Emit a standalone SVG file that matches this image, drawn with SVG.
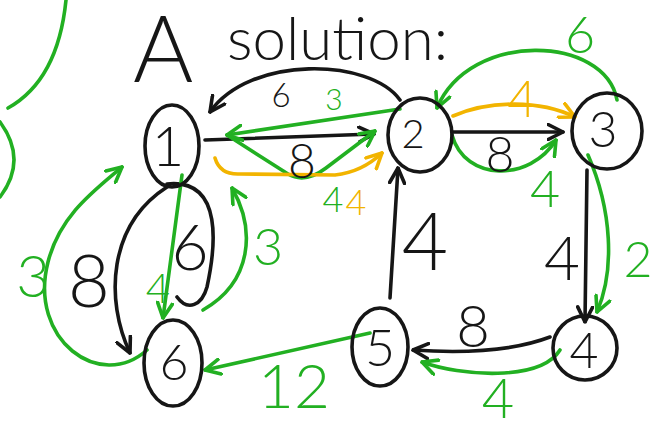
<svg xmlns="http://www.w3.org/2000/svg" width="656" height="430" viewBox="0 0 656 430">
<style>
.k{stroke:#161616}.g{stroke:#22b022}.y{stroke:#f2b400}
path,line,ellipse{fill:none;stroke-width:3.6;stroke-linecap:round;stroke-linejoin:round}
text{font-family:Lato,"Liberation Sans",Arial,sans-serif;font-weight:300;text-anchor:middle}
.tk{fill:#161616}.tg{fill:#22b022}.ty{fill:#f2b400}
</style>
<defs>
<marker id="ak" viewBox="0 0 12 12" refX="11" refY="6" markerWidth="18" markerHeight="18" markerUnits="userSpaceOnUse" orient="auto"><path d="M1,1 L11,6 L1,11" style="stroke:#161616;stroke-width:2.4"/></marker>
<marker id="ag" viewBox="0 0 12 12" refX="11" refY="6" markerWidth="18" markerHeight="18" markerUnits="userSpaceOnUse" orient="auto"><path d="M1,1 L11,6 L1,11" style="stroke:#22b022;stroke-width:2.4"/></marker>
<marker id="ay" viewBox="0 0 12 12" refX="11" refY="6" markerWidth="18" markerHeight="18" markerUnits="userSpaceOnUse" orient="auto"><path d="M1,1 L11,6 L1,11" style="stroke:#f2b400;stroke-width:2.4"/></marker>
</defs>
<rect width="656" height="430" fill="#ffffff"/>
<text class="tk" style="text-anchor:start"><tspan x="133" y="82" font-size="92">A</tspan><tspan x="227" y="60" font-size="60">solution:</tspan></text>
<path class="g" d="M8,108 Q58,80 66,0"/>
<path class="g" d="M0,122 Q28,160 0,197"/>
<g id="connectors">
<path class="k" d="M400,100 C370,58 250,55 210,112" marker-end="url(#ak)"/>
<path class="k" d="M205,140 L374,134" marker-end="url(#ak)"/>
<path class="k" d="M453,132 L563,132" marker-end="url(#ak)"/>
<path class="k" d="M390,298 L398,168" marker-end="url(#ak)"/>
<path class="k" d="M587,170 L585,322" marker-end="url(#ak)"/>
<path class="k" d="M550,337 Q500,356 413,350" marker-end="url(#ak)"/>
<path class="k" d="M167,187 C108,225 105,300 130,353" marker-end="url(#ak)"/>
<path class="k" d="M167,184 C225,178 215,250 207,287 C202,305 188,312 177,297"/>
<path class="g" d="M400,109 L227,135" marker-end="url(#ag)"/>
<path class="g" d="M227,135 L288,174 Q305,184 326,168 L375,131" marker-end="url(#ag)"/>
<path class="g" d="M617,100 C605,35 470,30 437,108" marker-end="url(#ag)"/>
<path class="g" d="M452,135 C465,182 530,182 556,140" marker-end="url(#ag)"/>
<path class="g" d="M588,155 C612,210 615,270 597,312" marker-end="url(#ag)"/>
<path class="g" d="M560,350 C540,382 460,376 422,362" marker-end="url(#ag)"/>
<path class="g" d="M370,333 L205,370" marker-end="url(#ag)"/>
<path class="g" d="M182,175 L163,318" marker-end="url(#ag)"/>
<path class="g" d="M147,350 C100,392 28,340 48,262 C60,215 95,190 122,167" marker-end="url(#ag)"/>
<path class="g" d="M203,310 C252,282 256,230 232,188" marker-end="url(#ag)"/>
<path class="y" d="M215,158 Q220,175 240,174 L335,175 Q362,172 382,153" marker-end="url(#ay)"/>
<path class="y" d="M453,116 C490,100 540,100 575,117" marker-end="url(#ay)"/>
</g>
<g id="labels">
<text class="tk" x="281" y="107" font-size="33">6</text>
<text class="tk" x="302" y="178" font-size="48">8</text>
<text class="tg" x="334" y="110" font-size="30">3</text>
<text class="tg" x="333" y="212" font-size="36">4</text>
<text class="ty" x="356" y="215" font-size="36">4</text>
<text class="ty" x="522" y="117" font-size="52">4</text>
<text class="tk" x="500" y="172" font-size="50">8</text>
<text class="tg" x="580" y="53" font-size="52">6</text>
<text class="tg" x="545" y="207" font-size="52">4</text>
<text class="tk" x="425" y="270" font-size="80">4</text>
<text class="tk" x="562" y="280" font-size="62">4</text>
<text class="tg" x="638" y="277" font-size="50">2</text>
<text class="tk" x="473" y="347" font-size="58">8</text>
<text class="tg" x="498" y="418" font-size="56">4</text>
<text class="tg" x="294" y="408" font-size="62">12</text>
<text class="tk" x="89" y="307" font-size="72">8</text>
<text class="tk" x="190" y="270" font-size="64">6</text>
<text class="tg" x="158" y="303" font-size="42">4</text>
<text class="tg" x="33" y="297" font-size="58">3</text>
<text class="tg" x="268" y="265" font-size="52">3</text>
</g>
<g id="n1"><ellipse class="k" cx="172" cy="146" rx="27" ry="41"/><text class="tk" x="168" y="166" font-size="56">1</text></g>
<g id="n2"><ellipse class="k" cx="420" cy="135" rx="32" ry="37"/><text class="tk" x="413" y="148" font-size="40">2</text></g>
<g id="n3"><ellipse class="k" cx="607" cy="131" rx="35" ry="38"/><text class="tk" x="603" y="147" font-size="50">3</text></g>
<g id="n4"><ellipse class="k" cx="585" cy="348" rx="32" ry="32"/><text class="tk" x="584" y="368" font-size="50">4</text></g>
<g id="n5"><ellipse class="k" cx="380" cy="347" rx="28" ry="39"/><text class="tk" x="380" y="366" font-size="52">5</text></g>
<g id="n6"><ellipse class="k" cx="173" cy="363" rx="29" ry="43"/><text class="tk" x="174" y="380" font-size="50">6</text></g>
</svg>
